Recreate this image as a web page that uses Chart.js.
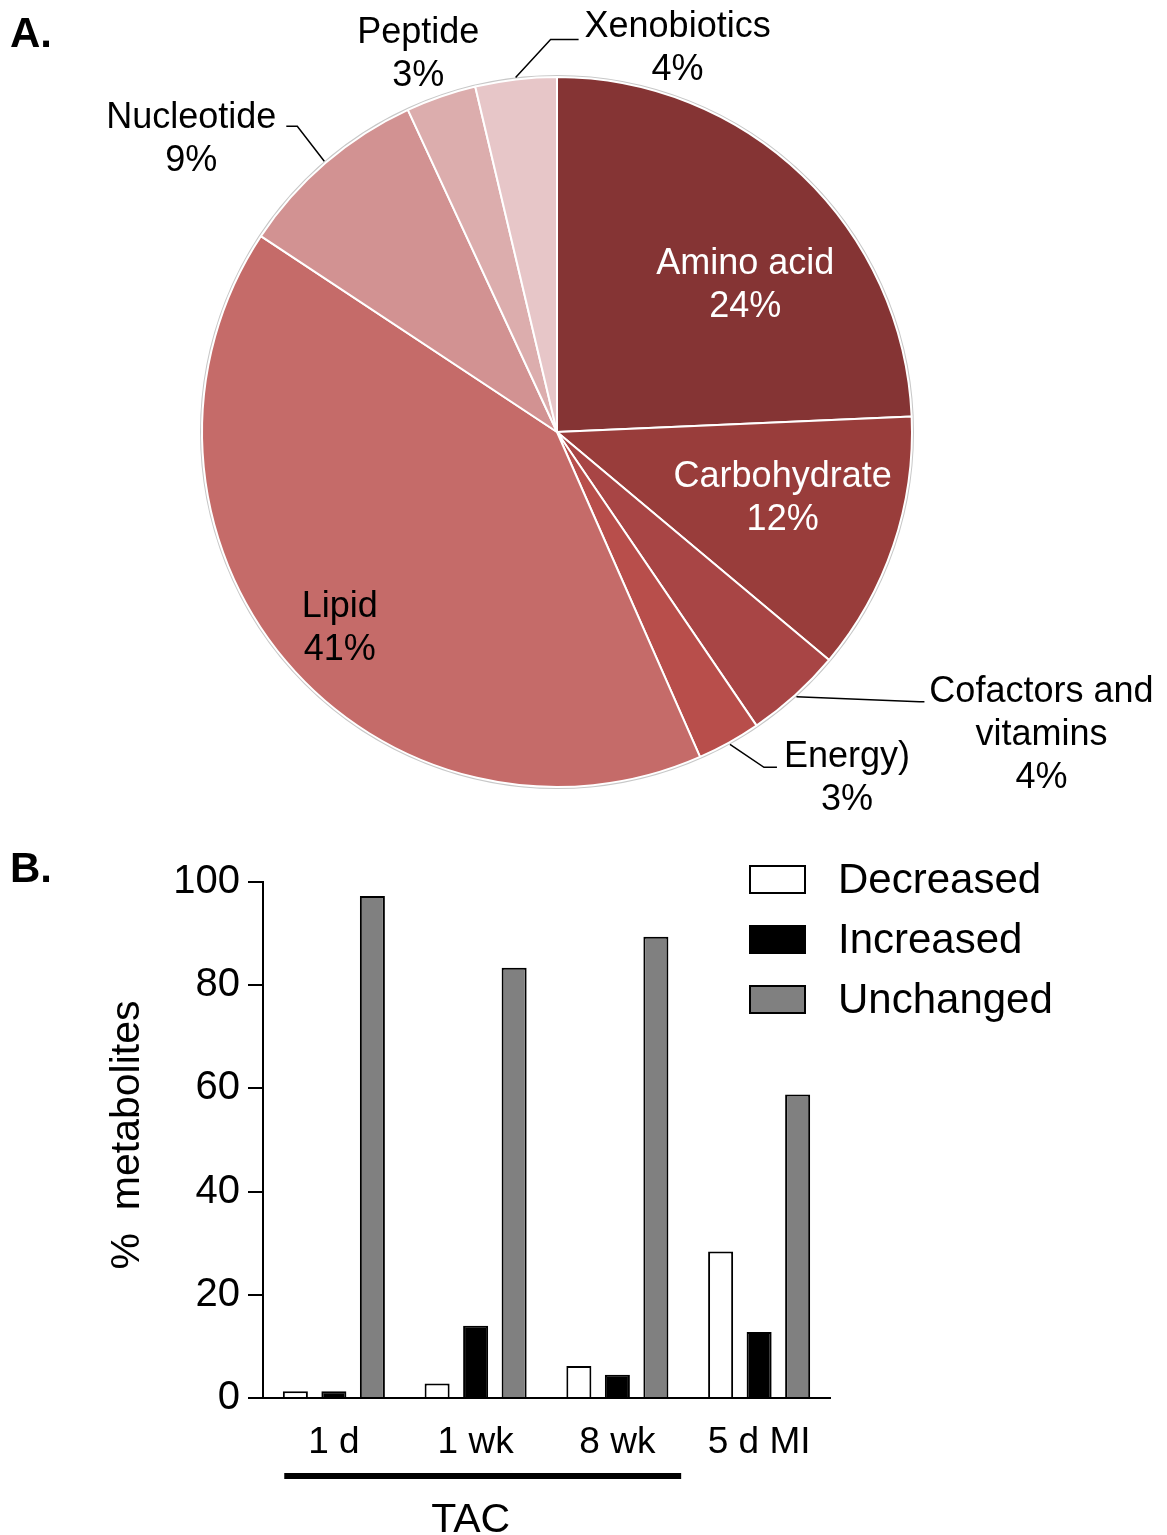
<!DOCTYPE html>
<html lang="en">
<head>
<meta charset="UTF-8">
<title>Metabolite classes and changes</title>
<script src="https://cdn.jsdelivr.net/npm/chart.js"></script>
<style>
    body {
        margin: 0;
        background: #fff;
        font-family: "Liberation Sans", Arial, sans-serif;
    }
    #page { position: relative; width: 1167px; height: 1535px; }
    .panel-letter {
        position: absolute;
        left: 10px;
        font-weight: bold;
        font-size: 42px;
        line-height: 1;
    }
    #pieBox { position: absolute; left: 0; top: 0; width: 1167px; height: 830px; }
    #barBox { position: absolute; left: 0; top: 840px; width: 1167px; height: 695px; }
</style>
</head>
<body>
<div id="page">
    <div id="pieBox"><canvas id="pieChart"></canvas></div>
    <div id="barBox"><canvas id="barChart"></canvas></div>
    <div class="panel-letter" style="top:12px">A.</div>
    <div class="panel-letter" style="top:847px">B.</div>
</div>

<script>
    // --- data: panel A (share of metabolites per class, clockwise from 12 o'clock)
    const pieCategories = ['Amino acid', 'Carbohydrate', 'Cofactors and\nvitamins', 'Energy)',
                           'Lipid', 'Nucleotide', 'Peptide', 'Xenobiotics'];
    const pieShares = [24.3, 11.8, 4.4, 2.9, 40.9, 8.8, 3.2, 3.7];
    const pieColors = ['#853434', '#993d3b', '#a84545', '#b84e4b',
                       '#c56b69', '#d29292', '#dcadad', '#e7c6c8'];

    // --- data: panel B (% metabolites)
    const groups = ['1 d', '1 wk', '8 wk', '5 d MI'];
    const decreased = [1.3, 2.8, 6.2, 28.4];
    const increased = [1.3, 14.0, 4.5, 12.8];
    const unchanged = [97.3, 83.4, 89.4, 58.8];
    const yTicks = [0, 20, 40, 60, 80, 100];

    const FONT = '"Liberation Sans", Arial, sans-serif';
    Chart.defaults.font.family = FONT;
    Chart.defaults.color = '#000';

    // where each pie label goes (inside: radius fraction + angle shift; outside: leader line)
    const pieLabelLayout = [
        { inside: true, rf: 0.676, da: 7.9, color: '#fff' },
        { inside: true, rf: 0.66, da: -3.1, color: '#fff' },
        { elbow: [123, 5], tail: 5, text: [117, -13] },
        { elbow: [34, 23], tail: 13, text: [70, -13] },
        { inside: true, rf: 0.82, da: -1.6, color: '#000' },
        { elbow: [-27, -35], tail: -11, text: [-95, -11] },
        { text: [-22, -65] },
        { elbow: [35, -38], tail: 28, text: [99, -15] }
    ];
    const LINE_H = 43;
    const TEXT_NUDGE = 3;   // middle baseline sits a bit high for these glyphs

    function drawLines(ctx, lines, cx, y0) {
        lines.forEach((t, k) => ctx.fillText(t, cx, y0 + TEXT_NUDGE + k * LINE_H));
    }

    const pieOutline = {
        id: 'pieOutline',
        beforeDatasetsDraw(chart) {
            const arc = chart.getDatasetMeta(0).data[0];
            const { x, y, outerRadius } = arc.getProps(['x', 'y', 'outerRadius'], true);
            const ctx = chart.ctx;
            ctx.save();
            ctx.strokeStyle = '#c8c8c8';
            ctx.lineWidth = 2;
            ctx.beginPath();
            ctx.arc(x, y, outerRadius + 1, 0, Math.PI * 2);
            ctx.stroke();
            ctx.restore();
        }
    };

    const pieLabels = {
        id: 'pieLabels',
        afterDatasetsDraw(chart) {
            const ctx = chart.ctx;
            const meta = chart.getDatasetMeta(0);
            ctx.save();
            ctx.font = '36px ' + FONT;
            ctx.textAlign = 'center';
            ctx.textBaseline = 'middle';
            meta.data.forEach((arc, i) => {
                const p = arc.getProps(['x', 'y', 'startAngle', 'endAngle', 'outerRadius'], true);
                const mid = (p.startAngle + p.endAngle) / 2;
                const L = pieLabelLayout[i];
                const lines = pieCategories[i].split('\n').concat(Math.round(pieShares[i]) + '%');
                if (L.inside) {
                    const a = mid + L.da * Math.PI / 180;
                    const cx = p.x + Math.cos(a) * p.outerRadius * L.rf;
                    const cy = p.y + Math.sin(a) * p.outerRadius * L.rf;
                    ctx.fillStyle = L.color;
                    drawLines(ctx, lines, cx, cy - (lines.length - 1) * LINE_H / 2);
                    return;
                }
                const ex = p.x + Math.cos(mid) * (p.outerRadius + 2);
                const ey = p.y + Math.sin(mid) * (p.outerRadius + 2);
                let ax = ex, ay = ey;
                if (L.elbow) {
                    const bx = ex + L.elbow[0], by = ey + L.elbow[1];
                    ax = bx + L.tail;
                    ay = by;
                    ctx.strokeStyle = '#000';
                    ctx.lineWidth = 1.5;
                    ctx.beginPath();
                    ctx.moveTo(ex, ey);
                    ctx.lineTo(bx, by);
                    ctx.lineTo(ax, ay);
                    ctx.stroke();
                }
                ctx.fillStyle = '#000';
                drawLines(ctx, lines, ax + L.text[0], ay + L.text[1]);
            });
            ctx.restore();
        }
    };

    new Chart(document.getElementById('pieChart'), {
        type: 'pie',
        data: {
            labels: pieCategories,
            datasets: [{
                data: pieShares,
                backgroundColor: pieColors,
                borderColor: '#fff',
                borderWidth: 2,
                hoverOffset: 0
            }]
        },
        options: {
            responsive: true,
            maintainAspectRatio: false,
            animation: false,
            radius: 355,
            layout: { padding: { left: 202, top: 77, right: 255, bottom: 43 } },
            plugins: {
                legend: { display: false },
                tooltip: { enabled: false }
            }
        },
        plugins: [pieOutline, pieLabels]
    });

    // legend, axis title and the TAC bracket of panel B
    const barExtras = {
        id: 'barExtras',
        afterDraw(chart) {
            const ctx = chart.ctx;
            ctx.save();
            // legend
            ctx.font = '42px ' + FONT;
            ctx.textAlign = 'left';
            ctx.textBaseline = 'middle';
            chart.data.datasets.forEach((ds, i) => {
                const top = 26 + i * 60;
                ctx.fillStyle = ds.backgroundColor;
                ctx.fillRect(750, top, 55, 27);
                ctx.strokeStyle = '#000';
                ctx.lineWidth = 2;
                ctx.strokeRect(750, top, 55, 27);
                ctx.fillStyle = '#000';
                ctx.fillText(ds.label, 838, top + 15);
            });
            // y title
            ctx.save();
            ctx.translate(128, 295);
            ctx.rotate(-Math.PI / 2);
            ctx.textAlign = 'center';
            ctx.font = '41px ' + FONT;
            ctx.fillText('%  metabolites', 0, 0);
            ctx.restore();
            // TAC bracket under the first three groups
            const x = chart.scales.x;
            const half = (x.getPixelForValue(1) - x.getPixelForValue(0)) / 2;
            const x0 = x.getPixelForValue(0) - half * 0.7;
            const x1 = x.getPixelForValue(2) + half * 0.9;
            ctx.fillRect(x0, 633, x1 - x0, 6);
            ctx.textAlign = 'center';
            ctx.font = '41px ' + FONT;
            ctx.fillText('TAC', x.getPixelForValue(1) - 5, 681);
            ctx.restore();
        }
    };

    new Chart(document.getElementById('barChart'), {
        type: 'bar',
        data: {
            labels: groups,
            datasets: [
                { label: 'Decreased', data: decreased, backgroundColor: '#ffffff' },
                { label: 'Increased', data: increased, backgroundColor: '#000000' },
                { label: 'Unchanged', data: unchanged, backgroundColor: '#808080' }
            ]
        },
        options: {
            responsive: true,
            maintainAspectRatio: false,
            animation: false,
            layout: { padding: { left: 0, top: 42, right: 337, bottom: 0 } },
            datasets: {
                bar: {
                    borderColor: '#000',
                    borderWidth: 2,
                    categoryPercentage: 0.815,
                    barPercentage: 0.65
                }
            },
            scales: {
                x: {
                    grid: { display: false },
                    border: { display: true, color: '#000', width: 2 },
                    ticks: { font: { size: 37 }, padding: 15, maxRotation: 0 },
                    afterFit(s) { s.height = 137; }
                },
                y: {
                    min: yTicks[0],
                    max: yTicks[yTicks.length - 1],
                    afterBuildTicks(s) { s.ticks = yTicks.map(v => ({ value: v })); },
                    grid: { drawOnChartArea: false, tickLength: 15, color: '#000', lineWidth: 2 },
                    border: { color: '#000', width: 2 },
                    ticks: { font: { size: 40 }, padding: 8 },
                    afterFit(s) { s.width = 263; }
                }
            },
            plugins: {
                legend: { display: false },
                tooltip: { enabled: false }
            }
        },
        plugins: [barExtras]
    });
</script>
</body>
</html>
